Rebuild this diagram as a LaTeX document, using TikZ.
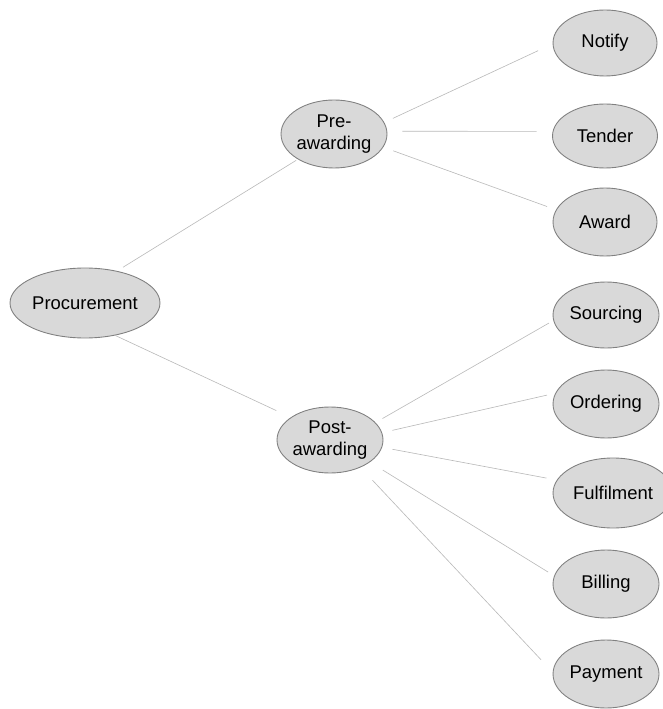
\documentclass[tikz,border=0pt]{standalone}
\usepackage{fontspec}
\setmainfont{Liberation Sans}
\tikzset{
  bubble/.style={ellipse, draw=gray, line width=0.5pt, fill=gray!30,
    inner sep=0pt, align=center, minimum width=2.12cm, minimum height=1.34cm,
    font=\fontsize{10.5}{12.5}\selectfont},
  link/.style={draw=gray!55, line width=0.35pt}
}
\usetikzlibrary{shapes.geometric}
\begin{document}
\begin{tikzpicture}[x=0.02cm,y=-0.02cm]
\useasboundingbox (0,0) rectangle (662,709);
\node[bubble, minimum width=3cm, minimum height=1.4cm] (proc) at (85,303) {Procurement};
\node[bubble, minimum height=1.36cm] (pre) at (334,134) {Pre-\\awarding};
\node[bubble, minimum height=1.32cm] (post) at (330,440) {Post-\\awarding};

\node[bubble, minimum width=2.08cm, minimum height=1.32cm] (notify) at (605,43) {Notify};
\node[bubble, minimum width=2.1cm, minimum height=1.28cm] (tender) at (605,136) {Tender};
\node[bubble, minimum width=2.08cm, minimum height=1.36cm] (award) at (605,222) {Award};

\node[bubble, minimum height=1.32cm] (sourcing) at (606,315) {Sourcing};
\node[bubble, minimum height=1.36cm] (ordering) at (606,404) {Ordering};
\node[bubble, minimum width=2.4cm, minimum height=1.4cm] (fulfil) at (613,493) {Fulfilment};
\node[bubble, minimum height=1.36cm] (billing) at (606,584) {Billing};
\node[bubble, minimum height=1.36cm] (payment) at (606,674) {Payment};

% first level
\draw[link, shorten <=0.14cm, shorten >=0.04cm] (proc.45) -- (pre.215);
\draw[link, shorten >=0.32cm] (proc.-47) -- (post.150);

% pre-awarding
\draw[link, shorten <=0.19cm, shorten >=0.32cm] (pre.13) -- (notify.181);
\draw[link, shorten <=0.3cm, shorten >=0.32cm] (pre.3) -- (tender.175);
\draw[link, shorten <=0.21cm, shorten >=0.19cm] (pre.-15) -- (award.166);

% post-awarding
\draw[link, shorten <=0.16cm, shorten >=0.1cm] (post.21) -- (sourcing.186);
\draw[link, shorten <=0.21cm, shorten >=0.17cm] (post.8) -- (ordering.168);
\draw[link, shorten <=0.21cm, shorten >=0.21cm] (post.-8) -- (fulfil.167);
\draw[link, shorten <=0.3cm, shorten >=0.14cm] (post.-29) -- (billing.171);
\draw[link, shorten <=0.35cm, shorten >=0.34cm] (post.-42) -- (payment.178);
\end{tikzpicture}
\end{document}
